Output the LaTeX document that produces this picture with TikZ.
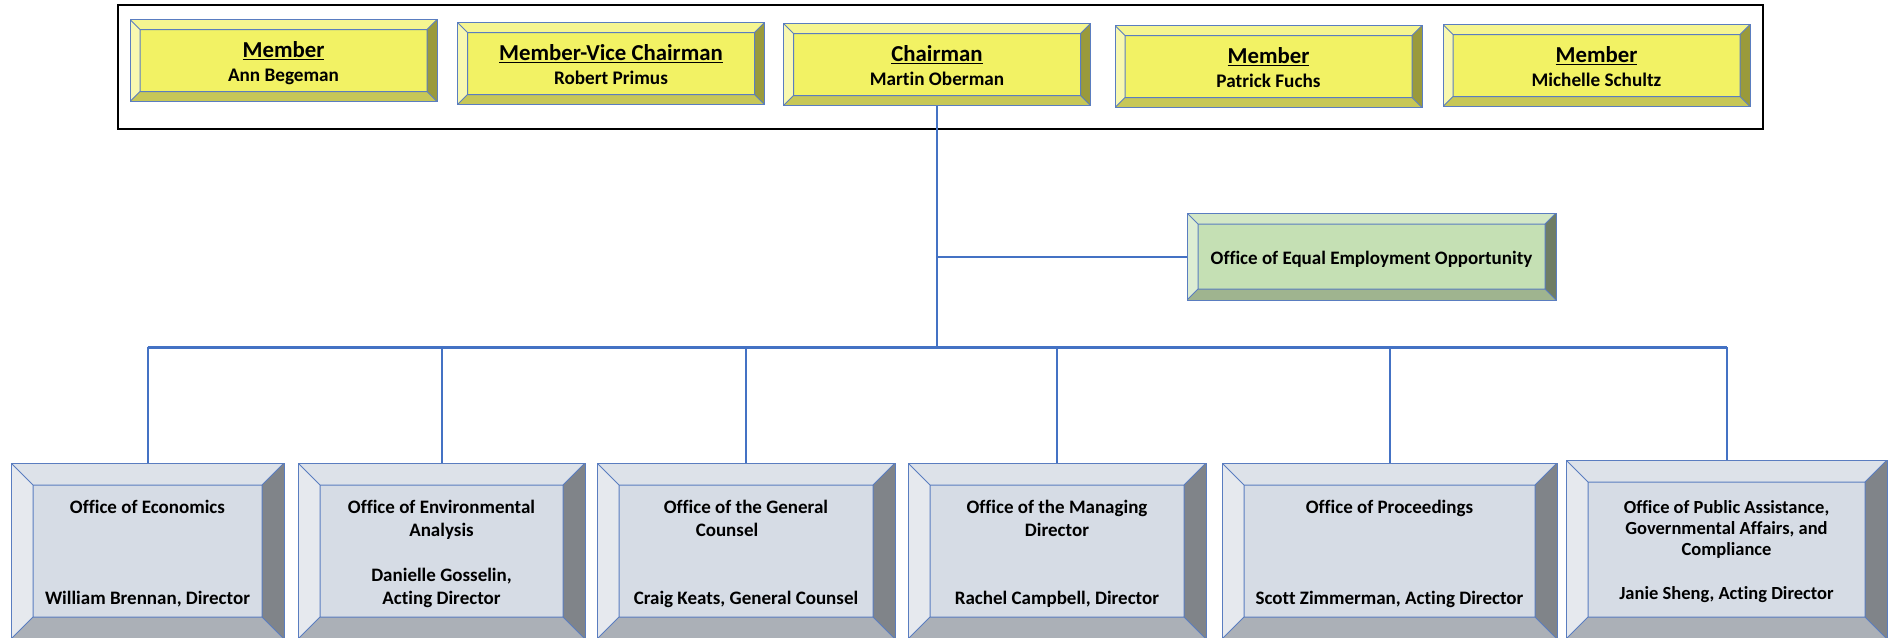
\documentclass[tikz,border=0pt]{standalone}
\usepackage{fontspec}
\setmainfont{Carlito}[Ligatures=NoCommon]
\usetikzlibrary{positioning}

\definecolor{edge}{HTML}{5A7DC0}
\definecolor{linkblue}{HTML}{4472C4}
\definecolor{yface}{HTML}{F2F264}
\definecolor{ytop}{HTML}{F5F591}
\definecolor{yleft}{HTML}{F8F8B0}
\definecolor{yright}{HTML}{9A9A3B}
\definecolor{ybot}{HTML}{C7C757}
\definecolor{gface}{HTML}{D6DCE5}
\definecolor{gtop}{HTML}{DDE2E9}
\definecolor{gleft}{HTML}{E6E9EE}
\definecolor{gright}{HTML}{808489}
\definecolor{gbot}{HTML}{ABB0B7}
\definecolor{eface}{HTML}{C5E0B4}
\definecolor{etop}{HTML}{D3E7C6}
\definecolor{eleft}{HTML}{DDEDD3}
\definecolor{eright}{HTML}{6F7D65}
\definecolor{ebot}{HTML}{9FB48F}

% underlined title
\newcommand{\titleline}[1]{\setbox0\hbox{#1}\rlap{\rule[-2.6pt]{\wd0}{1.8pt}}\box0}
% two lines of a seat on the commission
\newcommand{\seat}[2]{{\fontsize{22.8}{27}\selectfont\titleline{#1}\rule{0pt}{22pt}}\\#2\rule[-4pt]{0pt}{0pt}}
% office on top, head at the bottom
\NewDocumentCommand{\deptext}{O{260pt} O{120pt} O{9pt} m m}{\parbox[c][#2][t]{#1}{\centering\vspace*{#3}#4\par\vfill#5\strut}}

\tikzset{
bevel/.style 2 args={path picture={
  \coordinate (nw) at (path picture bounding box.north west);
  \coordinate (ne) at (path picture bounding box.north east);
  \coordinate (sw) at (path picture bounding box.south west);
  \coordinate (se) at (path picture bounding box.south east);
  \coordinate (inw) at ([xshift=#2,yshift=-#2]nw);
  \coordinate (ine) at ([xshift=-#2,yshift=-#2]ne);
  \coordinate (isw) at ([xshift=#2,yshift=#2]sw);
  \coordinate (ise) at ([xshift=-#2,yshift=#2]se);
  \fill[#1top] (nw) -- (ne) -- (ine) -- (inw) -- cycle;
  \fill[#1left] (nw) -- (inw) -- (isw) -- (sw) -- cycle;
  \fill[#1right] (ne) -- (se) -- (ise) -- (ine) -- cycle;
  \fill[#1bot] (sw) -- (isw) -- (ise) -- (se) -- cycle;
  \draw[edge, line width=1pt] (inw) -- (ine) -- (ise) -- (isw) -- cycle
    (nw) -- (inw) (ne) -- (ine) (sw) -- (isw) (se) -- (ise);
}},
board/.style={draw=black, line width=2.6pt, inner sep=0pt, minimum width=1645pt, minimum height=124pt},
member/.style={draw=edge, line width=1pt, fill=yface, bevel={y}{10pt}, inner sep=0pt,
  align=center, minimum width=307pt, minimum height=82pt, font=\fontsize{19.2}{23.4}\selectfont\bfseries},
eeo/.style={draw=edge, line width=1pt, fill=eface, bevel={e}{11pt}, inner sep=0pt, text height=18pt,
  minimum width=369pt, minimum height=87pt, font=\fontsize{19}{23}\selectfont\bfseries},
office/.style={draw=edge, line width=1pt, fill=gface, bevel={g}{22pt}, inner sep=0pt,
  minimum height=176pt, font=\fontsize{19}{23}\selectfont\bfseries},
link/.style={draw=linkblue, line width=2pt},
bus/.style={draw=linkblue, line width=3pt},
}

\begin{document}
\begin{tikzpicture}[x=1pt,y=-1pt]
\useasboundingbox (0,0) rectangle (1892,637);

% the commission
\node[board] (council) at (940.5,67) {};
\node[member] (m1) at (283.5,60.5) {\seat{Member}{Ann Begeman}};
\node[member] (m2) at (611,63.5) {\seat{Member-Vice Chairman}{Robert Primus}};
\node[member] (chair) at (937,64.5) {\seat{Chairman}{Martin Oberman}};
\node[member] (m4) at (1268.5,66.5) {\seat{Member}{Patrick Fuchs}};
\node[member] (m5) at (1596.5,65.5) {\seat{Member}{Michelle Schultz}};

\node[eeo] (eeo) at (1371.5,256.5) {Office of Equal Employment Opportunity};

% offices
\node[office, minimum width=273pt] (econ) at (147.5,551) {\deptext{Office of Economics}{William Brennan, Director}};
\node[office, minimum width=287pt] (env) at (441.5,551) {\deptext{Office of Environmental\\Analysis}{Danielle Gosselin,\\Acting Director}};
\node[office, minimum width=298pt] (gc) at (746,551) {\deptext{Office of the General\\Counsel\kern38pt}{Craig Keats, General Counsel}};
\node[office, minimum width=298pt] (md) at (1057,551) {\deptext{Office of the Managing\\Director}{Rachel Campbell, Director}};
\node[office, minimum width=335pt] (proc) at (1389.5,551) {\deptext[300pt]{Office of Proceedings}{Scott Zimmerman, Acting Director}};
\node[office, minimum width=321pt, minimum height=179pt, font=\fontsize{18.5}{21}\selectfont\bfseries] (pub) at (1726.5,549.5)
  {\deptext[280pt][112pt][6.6pt]{Office of Public Assistance,\\Governmental Affairs, and\\Compliance}{Janie Sheng, Acting Director}};

\coordinate (hub) at (937,347);
\draw[link] (chair.south) -- (hub);
\draw[link] (chair |- eeo.west) -- (eeo.west);
\draw[bus] (econ.north |- hub) -- (pub.north |- hub);
\foreach \d in {econ,env,gc,md,proc,pub}
  \draw[link] (\d.north |- hub) -- (\d.north);
\end{tikzpicture}
\end{document}
